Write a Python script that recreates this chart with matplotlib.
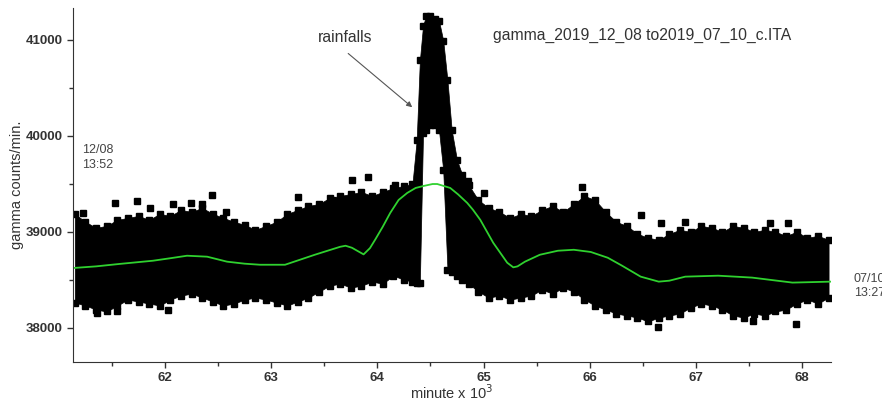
import matplotlib
matplotlib.use("Agg")
import matplotlib.pyplot as plt
from matplotlib.ticker import MultipleLocator

plt.rcParams['font.family'] = ['Liberation Sans', 'DejaVu Sans']

# --- data (x in minutes x 10^3, y in counts/min) ---

# band of measured points: sample positions with top / bottom of the dense cloud
band_x = [61.15, 61.25, 61.35, 61.45, 61.55, 61.65, 61.75, 61.85, 61.95, 62.05,
          62.15, 62.25, 62.35, 62.45, 62.55, 62.65, 62.75, 62.85, 62.95, 63.05,
          63.15, 63.25, 63.35, 63.45, 63.55, 63.65, 63.75, 63.85, 63.95, 64.05,
          64.15, 64.25, 64.33, 64.37, 64.40, 64.43, 64.46, 64.50, 64.54, 64.58,
          64.62, 64.66, 64.70, 64.75, 64.80, 64.86, 64.95, 65.05, 65.15, 65.25,
          65.35, 65.45, 65.55, 65.65, 65.75, 65.85, 65.95, 66.05, 66.15, 66.25,
          66.35, 66.45, 66.55, 66.65, 66.75, 66.85, 66.95, 67.05, 67.15, 67.25,
          67.35, 67.45, 67.55, 67.65, 67.75, 67.85, 67.95, 68.05, 68.15, 68.25]
band_top = [39187, 39104, 39042, 39062, 39125, 39145, 39166, 39125, 39187, 39166,
            39228, 39208, 39249, 39187, 39145, 39104, 39073, 39021, 39062, 39104,
            39187, 39228, 39270, 39290, 39353, 39374, 39394, 39415, 39374, 39415,
            39457, 39477, 39498, 39955, 40785, 41149, 41253, 41253, 41222, 41200,
            40993, 40578, 40059, 39747, 39592, 39488, 39332, 39249, 39208, 39145,
            39187, 39166, 39228, 39270, 39208, 39290, 39374, 39332, 39208, 39104,
            39062, 38979, 38938, 38917, 38979, 39021, 39000, 39062, 39042, 39000,
            39062, 39042, 39000, 39021, 39000, 38958, 39000, 38938, 38958, 38917]
band_bottom = [38263, 38232, 38190, 38170, 38232, 38294, 38273, 38253, 38232, 38294,
               38336, 38356, 38315, 38273, 38232, 38253, 38294, 38315, 38294, 38263,
               38232, 38273, 38315, 38377, 38439, 38460, 38419, 38439, 38481, 38460,
               38543, 38502, 38481, 38470, 38470, 40030, 40060, 40111, 40111, 40060,
               39644, 38606, 38585, 38543, 38502, 38460, 38377, 38315, 38336, 38294,
               38315, 38336, 38398, 38356, 38419, 38377, 38294, 38232, 38190, 38149,
               38128, 38107, 38066, 38107, 38128, 38149, 38211, 38253, 38232, 38190,
               38128, 38107, 38149, 38128, 38170, 38190, 38253, 38294, 38253, 38315]

# isolated points sticking out of the cloud
out_x = [61.23, 61.53, 61.74, 61.86, 62.07, 62.24, 62.35, 62.44, 62.57, 63.25,
         63.57, 63.76, 63.91, 64.17, 64.85, 65.00, 65.93, 66.48, 66.67, 66.90,
         67.70, 67.87, 61.36, 61.55, 62.03, 66.64, 67.54, 67.94]
out_y = [39197, 39301, 39322, 39249, 39291, 39301, 39291, 39384, 39208, 39363,
         39332, 39540, 39571, 39488, 39530, 39405, 39467, 39176, 39093, 39104,
         39093, 39093, 38159, 38170, 38190, 38004, 38066, 38035]

# green smoothing curve
fit_x = [61.133, 61.35, 61.576, 61.887, 62.05, 62.207, 62.396, 62.584, 62.75, 62.895,
         63.13, 63.41, 63.649, 63.70, 63.76, 63.87, 63.93, 63.98, 64.05, 64.121,
         64.20, 64.281, 64.36, 64.432, 64.52, 64.564, 64.686, 64.76, 64.846, 64.90,
         64.969, 65.091, 65.223, 65.28, 65.32, 65.39, 65.53, 65.70, 65.85, 66.01,
         66.17, 66.30, 66.48, 66.65, 66.75, 66.90, 67.21, 67.53, 67.91, 68.27]
fit_y = [38623, 38640, 38666, 38699, 38725, 38751, 38741, 38689, 38668, 38657,
         38657, 38761, 38844, 38855, 38834, 38765, 38830, 38920, 39052, 39197,
         39332, 39405, 39457, 39477, 39498, 39498, 39457, 39390, 39301, 39230,
         39125, 38886, 38678, 38630, 38640, 38689, 38761, 38803, 38813, 38790,
         38730, 38650, 38533, 38481, 38491, 38533, 38543, 38523, 38471, 38481]

fig = plt.figure(figsize=(8.82, 4.03), dpi=100)
ax = fig.add_axes([0.0828, 0.1025, 0.8594, 0.8777])

# dense cloud of points: filled region, with square markers along its edges
ax.fill_between(band_x, band_bottom, band_top, color='black', lw=0.5)
ax.plot(band_x, band_top, 's', color='black', ms=4.5)
ax.plot(band_x, band_bottom, 's', color='black', ms=4.5)
ax.plot(out_x, out_y, 's', color='black', ms=4.5)
ax.plot(fit_x, fit_y, color='#2fd12f', lw=1.3)

ax.set_xlim(61.133, 68.273)
ax.set_ylim(37647, 41332)

for side in ['top', 'right']:
    ax.spines[side].set_visible(False)
ax.spines['left'].set_color('#333333')
ax.spines['bottom'].set_color('#333333')

ax.xaxis.set_major_locator(MultipleLocator(1))
ax.xaxis.set_minor_locator(MultipleLocator(0.5))
ax.yaxis.set_major_locator(MultipleLocator(1000))
ax.yaxis.set_minor_locator(MultipleLocator(500))
ax.tick_params(which='major', length=4, width=1, direction='out', color='#333333',
               labelsize=9.5, labelcolor='#333333')
ax.tick_params(which='minor', length=3, width=1, direction='out', color='#333333')
for lbl in ax.get_xticklabels() + ax.get_yticklabels():
    lbl.set_fontweight('bold')

ax.set_ylabel("gamma counts/min.", fontsize=10.5, color='#333333', labelpad=1)
ax.set_xlabel("minute x 10$^3$", fontsize=10.5, color='#333333', labelpad=-0.5)

ax.text(63.697, 41020, "rainfalls", fontsize=11.3, color='#333333',
        ha='center', va='center')
ax.annotate("", xy=(64.328, 40298), xytext=(63.725, 40858),
            arrowprops=dict(arrowstyle='-|>', color='#555555', lw=0.8,
                            shrinkA=0, shrinkB=0, mutation_scale=8))

fig.text(0.559, 0.913, "gamma_2019_12_08 to2019_07_10_c.ITA", fontsize=11.3,
         color='#333333', ha='left', va='center')
fig.text(0.093, 0.610, "12/08\n13:52", fontsize=9, color='#444444',
         ha='left', va='center', linespacing=1.3)
# sits at the right border, clipped there as in the original figure
fig.text(0.968, 0.29, "07/10\n13:27", fontsize=9, color='#444444',
         ha='left', va='center', linespacing=1.3)

fig.savefig("out.png", dpi=100)
